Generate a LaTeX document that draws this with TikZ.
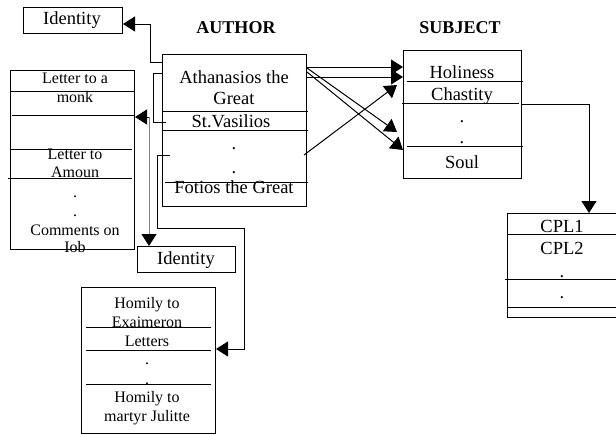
\documentclass[tikz,border=0pt]{standalone}
\usepackage{fontspec}
\setmainfont{Liberation Serif}
\usetikzlibrary{arrows.meta}

\tikzset{
  box/.style={draw, line width=1pt, inner sep=0pt, anchor=north west},
  big/.style={anchor=base, inner sep=0pt, font=\fontsize{18.5}{20}\selectfont},
  small/.style={anchor=base, inner sep=0pt, font=\fontsize{16}{18}\selectfont},
  head/.style={anchor=base, inner sep=0pt, font=\fontsize{18}{20}\selectfont\bfseries},
  sep/.style={line width=1pt},
  arr/.style={line width=1pt, -{Triangle[length=12pt,width=15pt,color=black]}}
}

\begin{document}
\begin{tikzpicture}[x=1pt, y=-1pt]
  \useasboundingbox (0,0) rectangle (616,434);
  \clip (0,0) rectangle (616,434);

  % headings
  \node[head] (authorhead) at (236,33) {AUTHOR};
  \node[head] (subjecthead) at (460,33) {SUBJECT};

  % boxes
  \node[box, minimum width=99, minimum height=26] (idtop) at (23,7) {};
  \node[box, minimum width=144, minimum height=152] (author) at (162,54) {};
  \node[box, minimum width=118, minimum height=128] (subject) at (403,50) {};
  \node[box, minimum width=124, minimum height=179] (letters) at (10,70) {};
  \node[box, minimum width=98, minimum height=26] (idbot) at (137,246) {};
  \node[box, minimum width=134, minimum height=146] (homily) at (81,287) {};
  \node[box, minimum width=115, minimum height=104] (cpl) at (507,213) {};

  % separators
  \draw[sep] (162,111) -- (308,111);
  \draw[sep] (162,130) -- (308,130);
  \draw[sep] (165,182) -- (308,182);
  \draw[sep] (407,81) -- (523,81);
  \draw[sep] (402,103) -- (519,103);
  \draw[sep] (407,146) -- (523,146);
  \draw[sep] (10,91) -- (134,91);
  \draw[sep] (12,115) -- (134,115);
  \draw[sep] (10,149) -- (132,149);
  \draw[sep] (8,178) -- (132,178);
  \draw[sep] (86,327) -- (211,327);
  \draw[sep] (86,350) -- (211,350);
  \draw[sep] (86,384) -- (211,384);
  \draw[sep] (507,234) -- (616,234);
  \draw[sep] (505,279) -- (616,279);
  \draw[sep] (507,307) -- (616,307);

  % texts
  \node[big] (idtoptxt) at (72,24) {Identity};
  \node[big] (athan) at (234,83) {Athanasios the};
  \node[big] (great) at (234,104) {Great};
  \node[big] (vasil) at (231,127) {St.Vasilios};
  \node[big] (adot1) at (234,149) {.};
  \node[big] (adot2) at (234,173) {.};
  \node[big] (fotios) at (234,193) {Fotios the Great};
  \node[big] (holi) at (462,78) {Holiness};
  \node[big] (chast) at (462,100) {Chastity};
  \node[big] (sdot1) at (462,122) {.};
  \node[big] (sdot2) at (462,143) {.};
  \node[big] (soul) at (462,168) {Soul};
  \node[small] (monk1) at (75,83) {Letter to a};
  \node[small] (monk2) at (75,102) {monk};
  \node[small] (amoun1) at (75,159) {Letter to};
  \node[small] (amoun2) at (75,177) {Amoun};
  \node[small] (ldot1) at (75,197) {.};
  \node[small] (ldot2) at (75,216) {.};
  \node[small] (iob1) at (75,235) {Comments on};
  \node[small] (iob2) at (75,252) {Iob};
  \node[big] (idbottxt) at (186,264) {Identity};
  \node[small] (hom1) at (147,308) {Homily to};
  \node[small] (hom2) at (147,327) {Exaimeron};
  \node[small] (hletters) at (147,346) {Letters};
  \node[small] (hdot1) at (147,364) {.};
  \node[small] (hdot2) at (147,384) {.};
  \node[small] (hom3) at (147,402) {Homily to};
  \node[small] (hom4) at (147,421) {martyr Julitte};
  \node[big] (cpl1) at (562,232) {CPL1};
  \node[big] (cpl2) at (562,254) {CPL2};
  \node[big] (cdot1) at (562,277) {.};
  \node[big] (cdot2) at (562,298) {.};

  % author to works
  \draw[arr] (author.west |- 0,62) -- (150,62) |- (idtop.east |- 0,24);
  \draw[sep] (author.west |- 0,73) -- (153,73) -- (153,122) -- ([xshift=4pt]author.west |- 0,122);
  \draw[arr] (149,117) -- (letters.east |- 0,117);
  \draw[arr, gray] (149,117) -- (idbot.north -| 149,0);
  \draw[arr] ([xshift=8pt]author.west |- 0,155) -- (157,155) |- (244,228) |- (homily.east |- 0,349);

  % author to subject
  \draw[arr] (author.east |- 0,67) -- (subject.west |- 0,67);
  \draw[arr] (author.east |- 0,77) -- (subject.west |- 0,77);
  \draw[arr] (author.east |- 0,68) -- (397,132);
  \draw[arr] (author.east |- 0,72) -- (subject.west |- 0,150);
  \draw[arr] (304,155) -- (397,85);

  % subject to cpl
  \draw[arr] (subject.east |- 0,104) -| (cpl.north -| 589,0);
\end{tikzpicture}
\end{document}
